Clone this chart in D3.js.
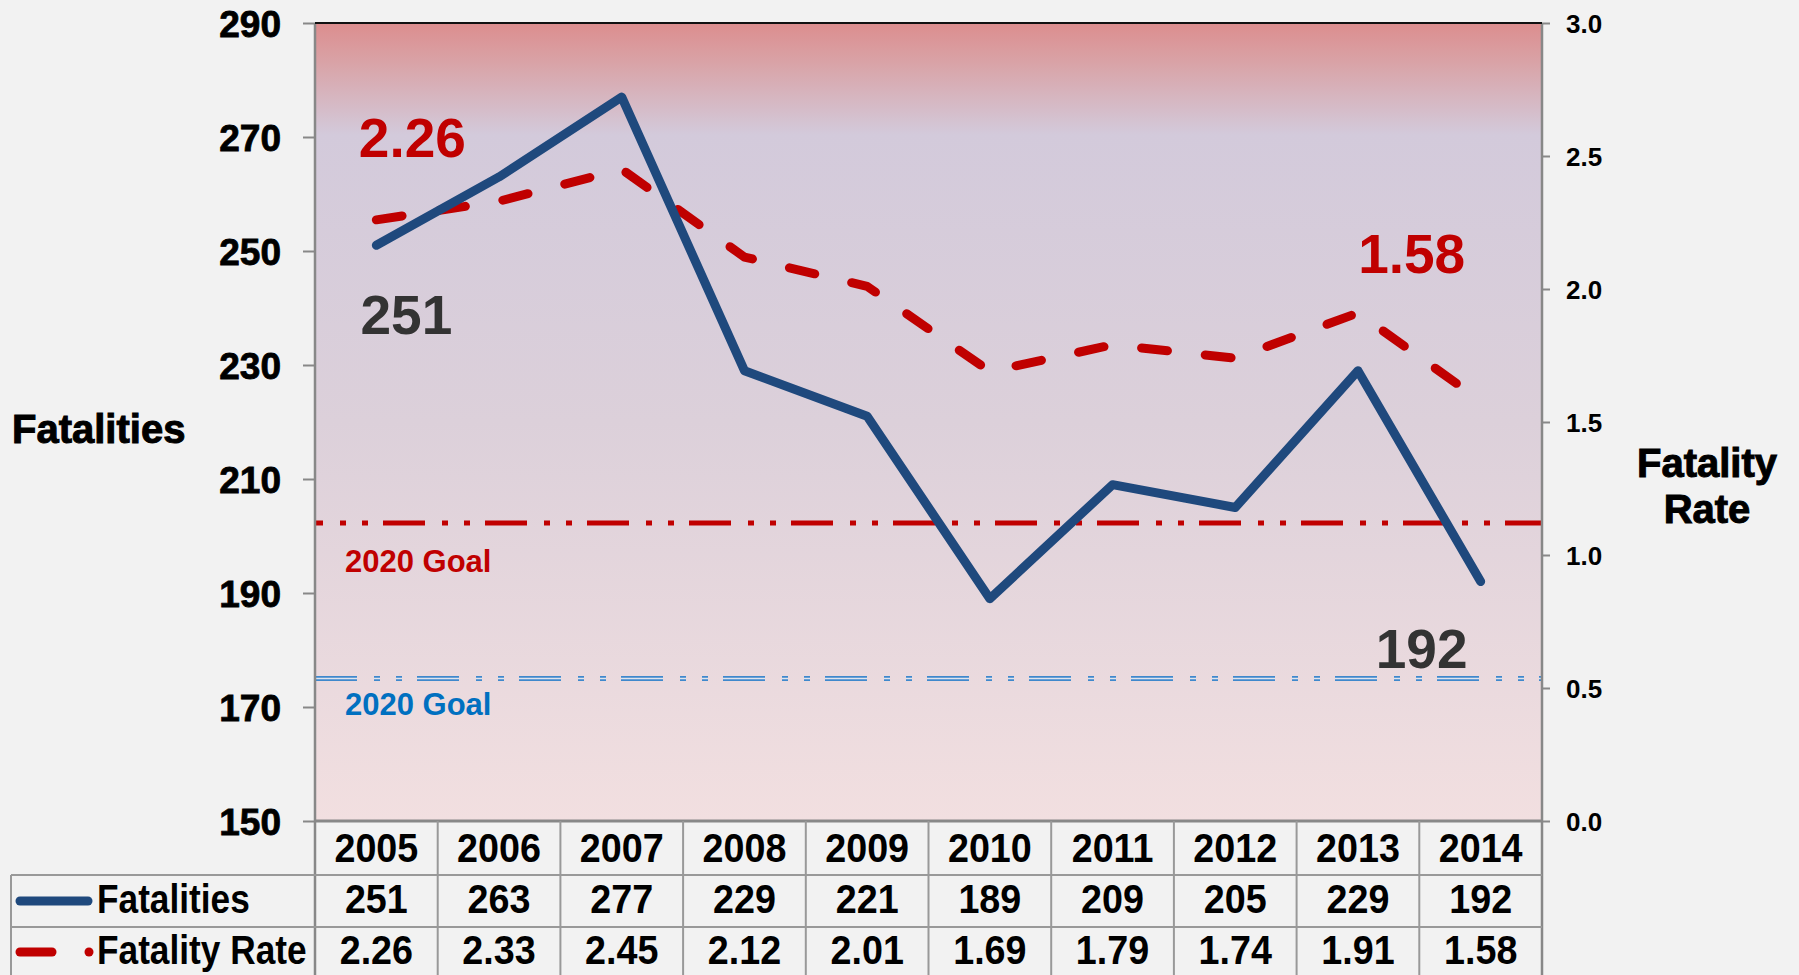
<!DOCTYPE html>
<html>
<head>
<meta charset="utf-8">
<script src="https://cdn.jsdelivr.net/npm/d3@7"></script>
<style>
  body { margin: 0; background: #f2f2f2; }
  svg { display: block; }
  .tick text { font-family: "Liberation Sans", Arial, sans-serif; font-weight: bold; fill: #000; }
</style>
</head>
<body>
<svg id="canvas" width="1799" height="975"></svg>
<script>
// data
var years = ['2005', '2006', '2007', '2008', '2009', '2010', '2011', '2012', '2013', '2014'];
var fatalities = [251, 263, 277, 229, 221, 189, 209, 205, 229, 192];
var rates = [2.26, 2.33, 2.45, 2.12, 2.01, 1.69, 1.79, 1.74, 1.91, 1.58];
var leftTicks = [150, 170, 190, 210, 230, 250, 270, 290];
var rightTicks = [0, 0.5, 1, 1.5, 2, 2.5, 3];
var fatalityGoal = 175;
var rateGoal = 1.12;

var svg = d3.select('#canvas');
var W = 1799, H = 975;
var plot = { left: 315, right: 1542, top: 23, bottom: 821 };

var x = d3.scaleBand().domain(years).range([plot.left, plot.right]);
var yL = d3.scaleLinear().domain([150, 290]).range([plot.bottom, plot.top]);
var yR = d3.scaleLinear().domain([0, 3]).range([plot.bottom, plot.top]);
var cx = function(i){ return x(years[i]) + x.bandwidth()/2; };

// ------------------------------------------------------------------ //
// background

var defs = svg.append('defs');
var grad = defs.append('linearGradient').attr('id', 'bg').attr('x1', 0).attr('y1', 0).attr('x2', 0).attr('y2', 1);
[[0, '#dc8d8e'], [0.05, '#d9a3a7'], [0.14, '#d3cadb'], [0.5, '#dcd0da'], [1, '#f2dfe0']].forEach(function(s){
  grad.append('stop').attr('offset', s[0]).attr('stop-color', s[1]);
});

svg.append('rect')
  .attr('x', plot.left).attr('y', plot.top)
  .attr('width', plot.right - plot.left).attr('height', plot.bottom - plot.top)
  .attr('fill', 'url(#bg)');

// ------------------------------------------------------------------ //
// goal lines

var goalDash = '42,17,6,16,6,15';
var yRate = yR(rateGoal);
svg.append('line')
  .attr('x1', plot.left).attr('x2', plot.right).attr('y1', yRate).attr('y2', yRate)
  .attr('stroke', '#c00000').attr('stroke-width', 5)
  .attr('stroke-dasharray', goalDash).attr('stroke-dashoffset', 34);

var yFat = yL(fatalityGoal);
svg.append('line')
  .attr('x1', plot.left).attr('x2', plot.right).attr('y1', yFat).attr('y2', yFat)
  .attr('stroke', '#3f88cc').attr('stroke-width', 5)
  .attr('stroke-dasharray', goalDash);
svg.append('line')
  .attr('x1', plot.left).attr('x2', plot.right).attr('y1', yFat).attr('y2', yFat)
  .attr('stroke', '#dfe4ee').attr('stroke-width', 1.3)
  .attr('stroke-dasharray', goalDash);

var goalFont = 'bold 31px "Liberation Sans", Arial, sans-serif';
svg.append('text').attr('x', 345).attr('y', yRate + 49)
  .style('font', goalFont).attr('fill', '#c00000')
  .text('2020 Goal');
svg.append('text').attr('x', 345).attr('y', yFat + 36)
  .style('font', goalFont).attr('fill', '#0070c0')
  .text('2020 Goal');

// ------------------------------------------------------------------ //
// axes

var axL = svg.append('g').attr('transform', 'translate(' + plot.left + ',0)')
  .call(d3.axisLeft(yL).tickValues(leftTicks).tickSize(12).tickPadding(22).tickFormat(d3.format('d')));
axL.selectAll('.tick text').style('font-size', '37px').attr('dy', '0.36em')
  .attr('stroke', '#000').attr('stroke-width', 0.8);
axL.selectAll('line').attr('stroke', '#888').attr('stroke-width', 2);
axL.select('.domain').remove();

var axR = svg.append('g').attr('transform', 'translate(' + plot.right + ',0)')
  .call(d3.axisRight(yR).tickValues(rightTicks).tickSize(8).tickPadding(16).tickFormat(d3.format('.1f')));
axR.selectAll('.tick text').style('font-size', '26px').attr('dy', '0.36em');
axR.selectAll('line').attr('stroke', '#888').attr('stroke-width', 2);
axR.select('.domain').remove();

svg.append('line').attr('x1', plot.left).attr('x2', plot.left).attr('y1', plot.top).attr('y2', H)
  .attr('stroke', '#888').attr('stroke-width', 2.5);
svg.append('line').attr('x1', plot.right).attr('x2', plot.right).attr('y1', plot.top).attr('y2', H)
  .attr('stroke', '#888').attr('stroke-width', 2.5);
svg.append('line').attr('x1', plot.left).attr('x2', plot.right).attr('y1', plot.top).attr('y2', plot.top)
  .attr('stroke', '#111').attr('stroke-width', 2);
svg.append('line').attr('x1', plot.left).attr('x2', plot.right).attr('y1', plot.bottom).attr('y2', plot.bottom)
  .attr('stroke', '#888').attr('stroke-width', 3);

// axis titles
var titleFont = 'bold 40px "Liberation Sans", Arial, sans-serif';
svg.append('text').attr('x', 12).attr('y', 443).style('font', titleFont)
  .attr('stroke', '#000').attr('stroke-width', 1).text('Fatalities');
svg.append('text').attr('x', 1707).attr('y', 477).attr('text-anchor', 'middle').style('font', titleFont)
  .attr('stroke', '#000').attr('stroke-width', 1).text('Fatality');
svg.append('text').attr('x', 1707).attr('y', 523).attr('text-anchor', 'middle').style('font', titleFont)
  .attr('stroke', '#000').attr('stroke-width', 1).text('Rate');

// ------------------------------------------------------------------ //
// data table

var rowY = [821, 875, 927, H];
var tableLine = function(x1, y1, x2, y2){
  svg.append('line').attr('x1', x1).attr('y1', y1).attr('x2', x2).attr('y2', y2)
    .attr('stroke', '#999').attr('stroke-width', 2);
};
years.forEach(function(d, i){ if (i > 0) tableLine(x(d), rowY[0], x(d), H); });
tableLine(11, rowY[1], plot.right, rowY[1]);
tableLine(11, rowY[2], plot.right, rowY[2]);
tableLine(11, rowY[1], 11, H);

// condensed look: squeeze a bold face horizontally
var cellFont = 'bold 41px "Liberation Sans", Arial, sans-serif';
var cells = svg.append('g').style('font', cellFont).attr('text-anchor', 'middle');
var cellText = function(cls, arr, y, fmt){
  cells.selectAll('.' + cls).data(arr).enter().append('text').attr('class', cls)
    .attr('transform', function(d, i){ return 'translate(' + cx(i) + ',' + y + ') scale(0.92,1)'; })
    .text(fmt);
};
cellText('yr', years, 862, function(d){ return d; });
cellText('fat', fatalities, 913, function(d){ return d; });
cellText('rate', rates, 964, function(d){ return d3.format('.2f')(d); });

// legend keys
svg.append('line').attr('x1', 20).attr('x2', 88).attr('y1', 901).attr('y2', 901)
  .attr('stroke', '#1f497d').attr('stroke-width', 9).attr('stroke-linecap', 'round');
svg.append('line').attr('x1', 20).attr('x2', 52).attr('y1', 952).attr('y2', 952)
  .attr('stroke', '#c00000').attr('stroke-width', 9).attr('stroke-linecap', 'round');
svg.append('circle').attr('cx', 89).attr('cy', 952).attr('r', 4.5).attr('fill', '#c00000');
svg.append('text').attr('transform', 'translate(97,913) scale(0.86,1)').style('font', cellFont).text('Fatalities');
svg.append('text').attr('transform', 'translate(97,964) scale(0.86,1)').style('font', cellFont).text('Fatality Rate');

// ------------------------------------------------------------------ //
// series

var lineL = d3.line().x(function(d, i){ return cx(i); }).y(function(d){ return yL(d); });
var lineR = d3.line().x(function(d, i){ return cx(i); }).y(function(d){ return yR(d); });

svg.append('path').attr('d', lineR(rates))
  .attr('fill', 'none').attr('stroke', '#c00000').attr('stroke-width', 9)
  .attr('stroke-linecap', 'round').attr('stroke-linejoin', 'round')
  .attr('stroke-dasharray', '26,38');

svg.append('path').attr('d', lineL(fatalities))
  .attr('fill', 'none').attr('stroke', '#1f497d').attr('stroke-width', 9)
  .attr('stroke-linecap', 'round').attr('stroke-linejoin', 'round');

// end labels
var bigFont = 'bold 55px "Liberation Sans", Arial, sans-serif';
var last = years.length - 1;
svg.append('text').attr('x', cx(0) + 36).attr('y', 157).attr('text-anchor', 'middle')
  .style('font', bigFont).attr('fill', '#c00000').text(d3.format('.2f')(rates[0]));
svg.append('text').attr('x', cx(0) + 30).attr('y', 334).attr('text-anchor', 'middle')
  .style('font', bigFont).attr('fill', '#333').text(fatalities[0]);
svg.append('text').attr('x', cx(last) - 69).attr('y', 273).attr('text-anchor', 'middle')
  .style('font', bigFont).attr('fill', '#c00000').text(d3.format('.2f')(rates[last]));
svg.append('text').attr('x', cx(last) - 59).attr('y', 668).attr('text-anchor', 'middle')
  .style('font', bigFont).attr('fill', '#333').text(fatalities[last]);
</script>
</body>
</html>
